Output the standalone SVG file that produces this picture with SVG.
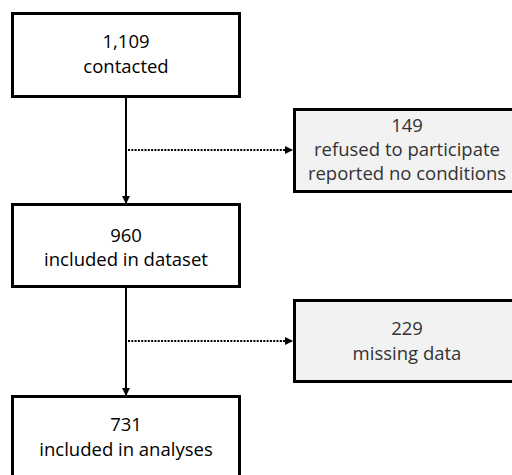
<svg xmlns="http://www.w3.org/2000/svg" width="512" height="475" viewBox="0 0 512 475">
<defs>
<style>
.box{fill:#ffffff;stroke:#000;stroke-width:3}
.gbox{fill:#f2f2f2;stroke:#000;stroke-width:3}
.t{font-family:"Open Sans","Liberation Sans",Arial,sans-serif;font-size:18.5px;fill:#000;text-anchor:middle}
.g{fill:#333}
.solid{stroke:#000;stroke-width:2;fill:none}
.dot{stroke:#000;stroke-width:2;fill:none;stroke-dasharray:2 1.3}
</style>
<marker id="ah" viewBox="0 0 8 8" refX="8" refY="4" markerWidth="8" markerHeight="8" markerUnits="userSpaceOnUse" orient="auto">
<path d="M0,0 L8,4 L0,8 Z" fill="#000"/>
</marker>
</defs>
<rect width="512" height="475" fill="#fff"/>
<g id="connectors">
<line class="solid" x1="126" y1="97" x2="126" y2="204" marker-end="url(#ah)"/>
<line class="solid" x1="126" y1="287" x2="126" y2="396" marker-end="url(#ah)"/>
<line class="dot" x1="128" y1="150" x2="293" y2="150" marker-end="url(#ah)"/>
<line class="dot" x1="128" y1="341" x2="293" y2="341" marker-end="url(#ah)"/>
</g>
<g id="n1">
<rect class="box" x="12.5" y="13.5" width="227" height="83"/>
<text class="t" x="126" y="48">1,109</text>
<text class="t" x="126" y="73">contacted</text>
</g>
<g id="n2">
<rect class="gbox" x="294.5" y="109.5" width="226" height="82"/>
<text class="t g" x="407" y="132">149</text>
<text class="t g" x="407" y="156">refused to participate</text>
<text class="t g" x="407" y="180">reported no conditions</text>
</g>
<g id="n3">
<rect class="box" x="12.5" y="204.5" width="227" height="82"/>
<text class="t" x="126" y="242">960</text>
<text class="t" x="126" y="266">included in dataset</text>
</g>
<g id="n4">
<rect class="gbox" x="294.5" y="300.5" width="226" height="81"/>
<text class="t g" x="407" y="335">229</text>
<text class="t g" x="407" y="360">missing data</text>
</g>
<g id="n5">
<rect class="box" x="12.5" y="396.5" width="227" height="90"/>
<text class="t" x="126" y="431">731</text>
<text class="t" x="126" y="456">included in analyses</text>
</g>
</svg>
